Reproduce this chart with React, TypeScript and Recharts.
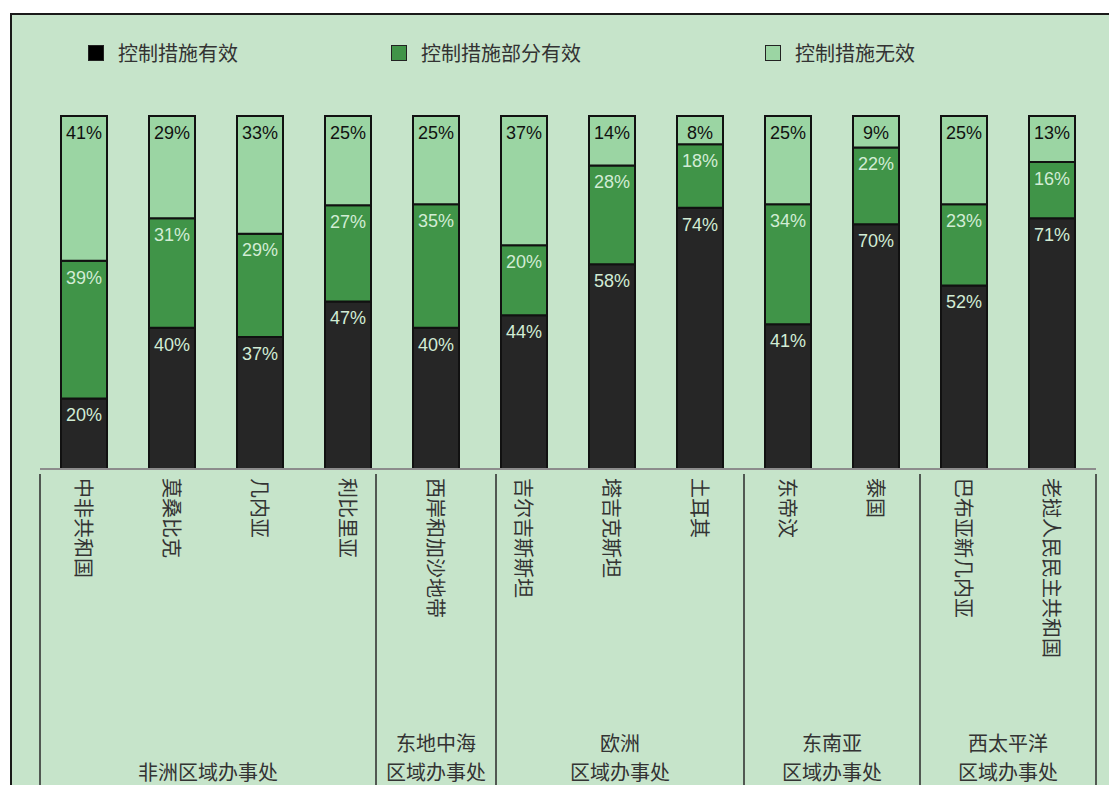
import { Bar, BarChart, LabelList, XAxis, YAxis } from "recharts"

const categories = [
  "中非共和国",
  "莫桑比克",
  "几内亚",
  "利比里亚",
  "西岸和加沙地带",
  "吉尔吉斯斯坦",
  "塔吉克斯坦",
  "土耳其",
  "东帝汶",
  "泰国",
  "巴布亚新几内亚",
  "老挝人民民主共和国",
]
const effective = [20, 40, 37, 47, 40, 44, 58, 74, 41, 70, 52, 71]
const partial = [39, 31, 29, 27, 35, 20, 28, 18, 34, 22, 23, 16]
const ineffective = [41, 29, 33, 25, 25, 37, 14, 8, 25, 9, 25, 13]

const groupNames = [
  ["非洲区域办事处"],
  ["东地中海", "区域办事处"],
  ["欧洲", "区域办事处"],
  ["东南亚", "区域办事处"],
  ["西太平洋", "区域办事处"],
]
const groupSizes = [4, 1, 3, 2, 2]
const seriesNames = ["控制措施有效", "控制措施部分有效", "控制措施无效"]

const data = categories.map((name, i) => ({
  name,
  effective: effective[i],
  partial: partial[i],
  ineffective: ineffective[i],
}))

// layout
const W = 1109
const H = 785
const margin = { top: 116, right: 13, left: 40, bottom: 6 }
const AXIS_H = 310
const PLOT_W = W - margin.left - margin.right
const BAND = PLOT_W / categories.length
const AXIS_Y = H - margin.bottom - AXIS_H
const CJK = "'Noto Sans CJK SC', sans-serif"
const CJK_SIZE = 20
const NUM_FONT = "'Liberation Sans', Arial, sans-serif"

const colors = ["#262626", "#409448", "#9bd5a3"]
const bg = "#c6e4ca"
const lightText = "#d2ecd5"

// group separators sit on category edges, pushed outwards when a label needs more room
const edges = groupSizes.reduce((acc, s) => [...acc, acc[acc.length - 1] + s], [0])
const sepX = edges.map((e) => margin.left + e * BAND)
groupNames.forEach((lines, g) => {
  const need = Math.max(...lines.map((l) => l.length)) * CJK_SIZE + 20
  if (need > sepX[g + 1] - sepX[g]) {
    const c = (sepX[g] + sepX[g + 1]) / 2
    sepX[g] = c - need / 2
    sepX[g + 1] = c + need / 2
  }
})

function GroupDecor() {
  return (
    <g>
      {sepX.map((x, i) => (
        <line key={i} x1={x} x2={x} y1={AXIS_Y + 5} y2={H} stroke="#2a2a2a" strokeWidth={1.5} />
      ))}
      {groupNames.map((lines, g) => {
        const cx = (sepX[g] + sepX[g + 1]) / 2
        return lines.map((line, k) => (
          <text
            key={`${g}-${k}`}
            x={cx}
            y={771 - (lines.length - 1 - k) * 29}
            textAnchor="middle"
            dominantBaseline="central"
            fontFamily={CJK}
            fontSize={CJK_SIZE}
            fill="#333"
          >
            {line}
          </text>
        ))
      })}
    </g>
  )
}

function CategoryTick(props: any) {
  const { x, payload } = props
  return (
    <g>
      <text
        transform={`translate(${x},${AXIS_Y + 9}) rotate(90)`}
        dominantBaseline="central"
        textAnchor="start"
        fontFamily={CJK}
        fontSize={CJK_SIZE}
        fill="#333"
      >
        {payload.value}
      </text>
      {payload.index === 0 && <GroupDecor />}
    </g>
  )
}

const legendLefts = [88, 391, 765]

function LegendBox() {
  return (
    <div style={{ position: "absolute", left: 0, top: 0, width: W }}>
      {seriesNames.map((n, i) => (
        <div
          key={n}
          style={{
            position: "absolute",
            left: legendLefts[i],
            top: 38,
            display: "flex",
            alignItems: "center",
            fontFamily: CJK,
            fontSize: CJK_SIZE,
            color: "#333",
            whiteSpace: "nowrap",
          }}
        >
          <span
            style={{
              display: "inline-block",
              width: 14,
              height: 14,
              background: i === 0 ? "#000" : colors[i],
              border: "1px solid #222",
              marginRight: 14,
            }}
          />
          {n}
        </div>
      ))}
    </div>
  )
}

const fmt = (v: any) => `${v}%`

export default function App() {
  return (
    <div style={{ position: "fixed", inset: 0, overflow: "hidden", background: "#fff" }}>
      <div
        style={{
          position: "absolute",
          left: 10,
          top: 13,
          width: W,
          height: H,
          background: bg,
          borderLeft: "2px solid #1a1a1a",
          borderTop: "2px solid #1a1a1a",
        }}
      />
      <LegendBox />
      <div style={{ position: "absolute", left: 0, top: 0 }}>
        <BarChart width={W} height={H} data={data} margin={margin} stackOffset="expand" barSize={46}>
          <XAxis
            dataKey="name"
            height={AXIS_H}
            interval={0}
            tickLine={false}
            axisLine={{ stroke: "#8c8c8c", strokeWidth: 2 }}
            tick={(p: any) => <CategoryTick {...p} />}
          />
          <YAxis hide domain={[0, 1]} />
          <Bar dataKey="effective" stackId="a" fill={colors[0]} stroke="#111" strokeWidth={2} isAnimationActive={false}>
            <LabelList
              dataKey="effective"
              position="insideTop"
              offset={10}
              formatter={fmt}
              fill={lightText}
              fontSize={18}
              fontFamily={NUM_FONT}
            />
          </Bar>
          <Bar dataKey="partial" stackId="a" fill={colors[1]} stroke="#111" strokeWidth={2} isAnimationActive={false}>
            <LabelList
              dataKey="partial"
              position="insideTop"
              offset={10}
              formatter={fmt}
              fill={lightText}
              fontSize={18}
              fontFamily={NUM_FONT}
            />
          </Bar>
          <Bar dataKey="ineffective" stackId="a" fill={colors[2]} stroke="#111" strokeWidth={2} isAnimationActive={false}>
            <LabelList
              dataKey="ineffective"
              position="insideTop"
              offset={10}
              formatter={fmt}
              fill="#111"
              fontSize={18}
              fontFamily={NUM_FONT}
            />
          </Bar>
        </BarChart>
      </div>
    </div>
  )
}
